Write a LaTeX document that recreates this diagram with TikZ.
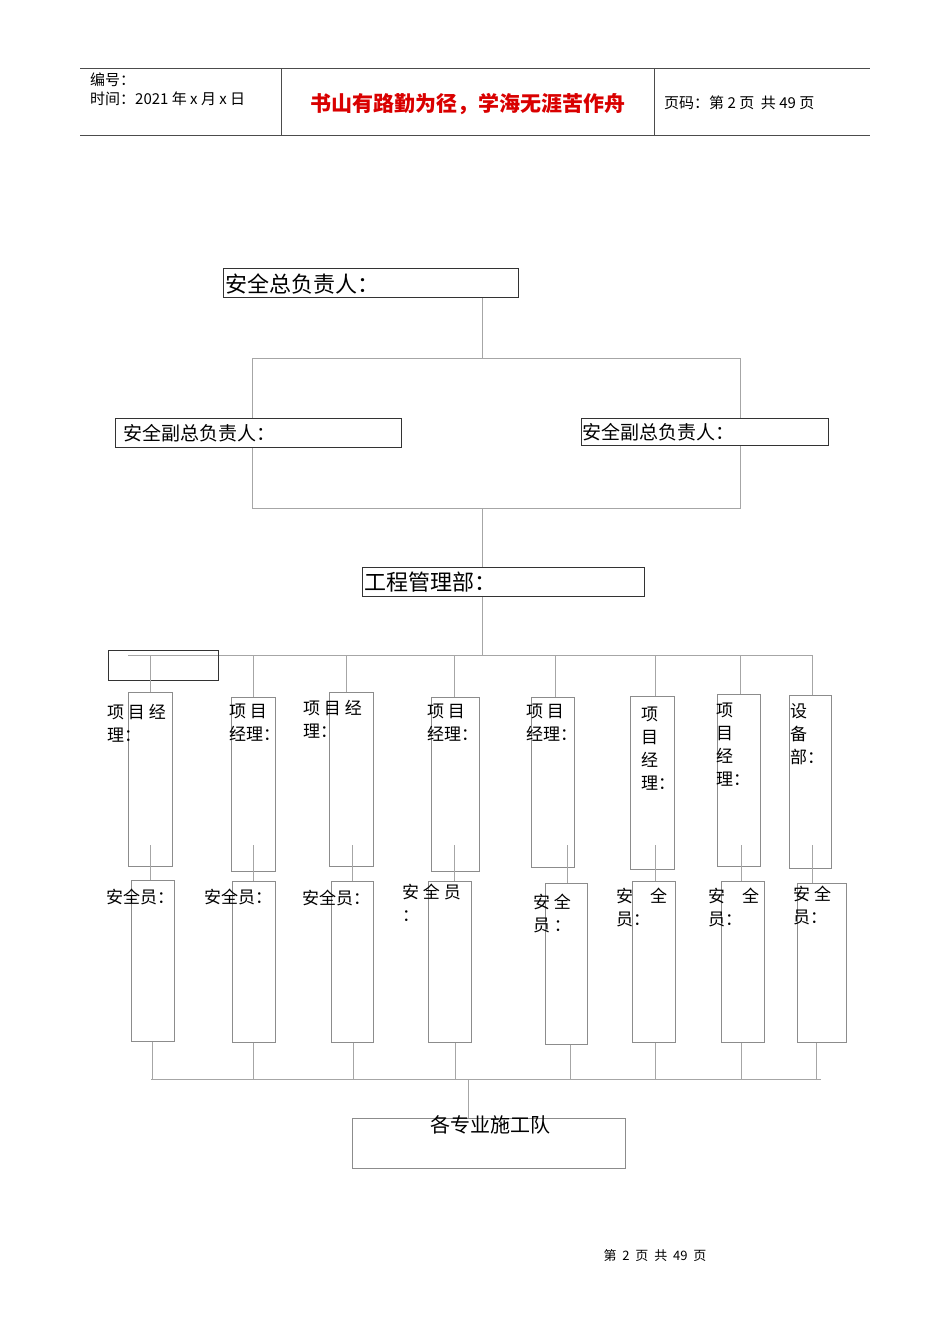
\documentclass[tikz,border=0pt]{standalone}
\usepackage{fontspec}
\setmainfont{Liberation Serif}
\newfontfamily\cjk{Noto Sans CJK SC}
\tikzset{
  bx/.style={draw=black!45,line width=0.6pt,inner sep=0,anchor=north west},
  hd/.style={draw=black!80,line width=0.8pt,inner sep=0,anchor=north west},
  ln/.style={draw=black!35,line width=0.6pt},
  lab/.style={anchor=north west,inner sep=0,align=left,font=\cjk\fontsize{17}{23}\selectfont},
}
\newcommand{\bxx}[6]{\node[#1,minimum width=#4-#2,minimum height=#5-#3] (#6) at (#2,#3) {};}
\begin{document}
\begin{tikzpicture}[x=1pt,y=-1pt]
\useasboundingbox (0,0) rectangle (950,1344);
% header
\draw[black!70,line width=0.8pt] (80,68) -- (870,68) (80,135) -- (870,135) (281,68) -- (281,135) (654,68) -- (654,135);
\node[anchor=west,inner sep=0,font=\cjk\fontsize{15}{17}\selectfont] (h1) at (90,80) {编号：};
\node[anchor=west,inner sep=0,font=\cjk\fontsize{15}{17}\selectfont] (h2) at (90,99) {时间：2021 年 x 月 x 日};
\node[inner sep=0,font=\cjk\bfseries\fontsize{21}{23}\selectfont,text=red!85!black] (h3) at (468,104) {书山有路勤为径，学海无涯苦作舟};
\node[anchor=west,inner sep=0,font=\cjk\fontsize{15}{17}\selectfont] (h4) at (664,103) {页码：第 2 页\ \ 共 49 页};
% top levels
\bxx{hd}{223}{268}{518}{297}{top}
\node[anchor=west,inner sep=0,font=\cjk\fontsize{22}{24}\selectfont] (topt) at (225,284) {安全总负责人：};
\bxx{hd}{115}{418}{401}{447}{vl}
\node[anchor=west,inner sep=0,font=\cjk\fontsize{19}{22}\selectfont] (vlt) at (123,433) {安全副总负责人：};
\bxx{hd}{581}{418}{828}{445}{vr}
\node[anchor=west,inner sep=0,font=\cjk\fontsize{19}{22}\selectfont] (vrt) at (582,432) {安全副总负责人：};
\bxx{hd}{362}{567}{644}{596}{gc}
\node[anchor=west,inner sep=0,font=\cjk\fontsize{22}{24}\selectfont] (gct) at (364,582) {工程管理部：};
\coordinate (a1) at (482,358); \coordinate (a2) at (252,358); \coordinate (a3) at (740,358);
\draw[ln] (top.south -| a1) -- (a1) (a2) -- (a3) (a2) -- (a2 |- vl.north) (a3) -- (a3 |- vr.north);
\coordinate (b1) at (482,508); \coordinate (b2) at (252,508); \coordinate (b3) at (740,508);
\draw[ln] (a2 |- vl.south) -- (b2) -- (b3) -- (a3 |- vr.south) (b1) -- (gc.north -| b1);
\coordinate (c1) at (482,655); \coordinate (cl) at (128,655); \coordinate (cr) at (812,655);
\draw[ln] (gc.south -| c1) -- (c1) (cl) -- (cr);
\bxx{hd}{108}{650}{218}{680}{small}
% managers
\foreach \i/\xa/\ya/\xb/\yb/\cx in {1/128/692/172/866/150,2/231/697/275/871/253,3/329/692/373/866/346,4/431/697/479/871/454,5/531/697/574/867/555,6/630/696/674/869/655,7/717/694/760/866/740,8/789/695/831/868/812}{
  \bxx{bx}{\xa}{\ya}{\xb}{\yb}{m\i}
  \draw[ln] (\cx,655) -- (m\i.north -| \cx,0);
}
% safety
\foreach \i/\xa/\ya/\xb/\yb/\cx/\dx in {1/131/880/174/1041/150/152,2/232/881/275/1042/253/253,3/331/881/373/1042/352/353,4/428/881/471/1042/454/455,5/545/883/587/1044/567/570,6/632/881/675/1042/655/655,7/721/881/764/1042/741/741,8/797/883/846/1042/812/816}{
  \bxx{bx}{\xa}{\ya}{\xb}{\yb}{s\i}
  \draw[ln] (\cx,845) -- (s\i.north -| \cx,0);
  \draw[ln] (s\i.south -| \dx,0) -- (\dx,1079);
}
\coordinate (d1) at (151,1079); \coordinate (d2) at (821,1079); \coordinate (d3) at (468,1079);
\draw[ln] (d1) -- (d2);
\bxx{bx}{352}{1118}{625}{1168}{team}
\draw[ln] (d3) -- (team.north -| d3);
\node[anchor=north,inner sep=0,font=\cjk\fontsize{20}{22}\selectfont] (teamt) at (490,1115) {各专业施工队};
% manager labels
\node[lab] (l1) at (107,704) {项 目 经\\理：};
\node[lab] (l2) at (229,704) {项 目\\经理：};
\node[lab] (l3) at (303,700) {项 目 经\\理：};
\node[lab] (l4) at (427,704) {项 目\\经理：};
\node[lab] (l5) at (526,704) {项 目\\经理：};
\node[lab] (l6) at (641,707) {项\\目\\经\\理：};
\node[lab] (l7) at (716,703) {项\\目\\经\\理：};
\node[lab] (l8) at (790,703) {设\\备\\部：};
% safety labels
\node[lab] (k1) at (106,889) {安全员：};
\node[lab] (k2) at (204,889) {安全员：};
\node[lab] (k3) at (302,890) {安全员：};
\node[lab] (k4) at (402,884) {安 全 员\\：};
\node[lab] (k5) at (533,894) {安 全\\员 ：};
\node[lab] (k6) at (616,888) {安\quad 全\\员：};
\node[lab] (k7) at (708,888) {安\quad 全\\员：};
\node[lab] (k8) at (793,886) {安 全\\员：};
% footer
\node[inner sep=0,font=\cjk\fontsize{13}{15}\selectfont] (foot) at (655,1256) {第\ \ 2\ \ 页\ \ 共\ \ 49\ \ 页};
\end{tikzpicture}
\end{document}
